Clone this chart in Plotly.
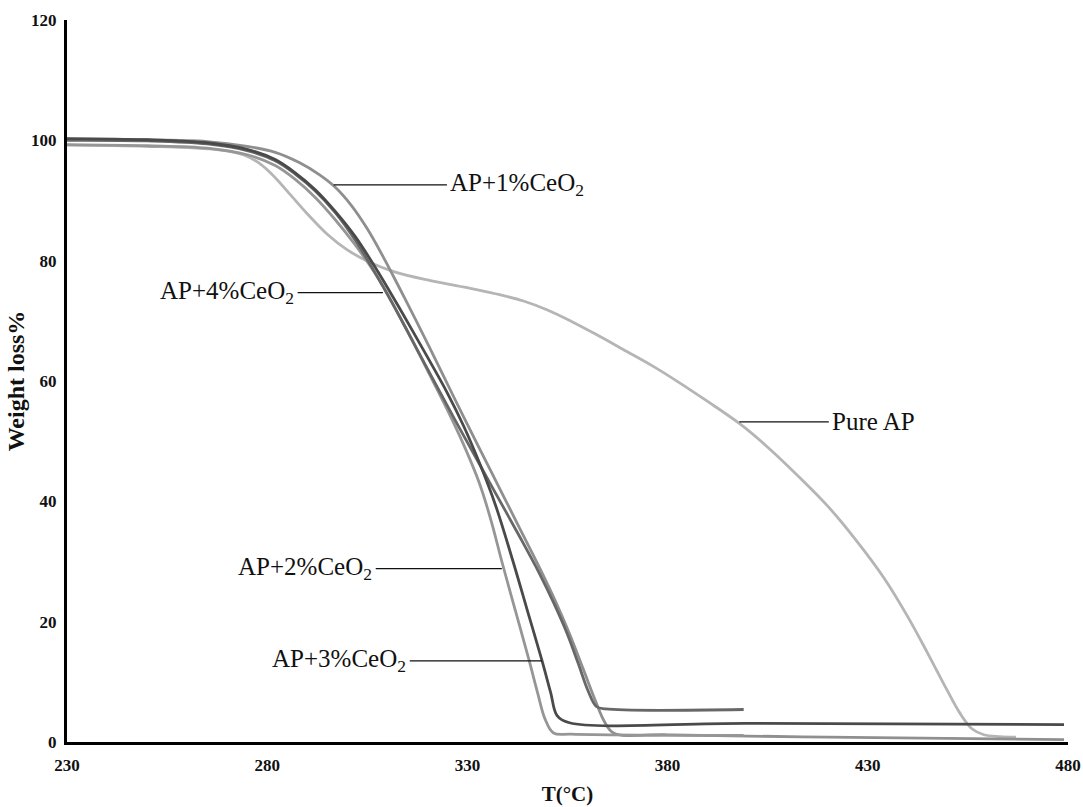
import plotly.graph_objects as go

# ---------------- data ----------------
pure_T = [230, 250, 268, 274, 278, 282, 286, 290, 295, 300, 306, 312, 320, 330, 337, 344, 350,
          356, 362, 369, 376, 383, 390, 398, 405, 412, 420, 427, 434, 440, 445, 449.5, 453, 456, 459, 463, 467]
pure_W = [99.2, 99.0, 98.4, 97.6, 96.2, 93.8, 90.8, 87.8, 84.4, 81.8, 79.6, 78.1, 76.8, 75.5, 74.5, 73.3, 71.8,
          69.9, 67.8, 65.2, 62.6, 59.7, 56.6, 52.9, 49.0, 44.6, 39.2, 33.6, 27.3, 20.8, 14.7, 9.0, 4.8, 2.2, 1.2, 0.9, 0.8]

ce1_T = [230, 250, 265, 275, 282, 288, 293, 297, 301, 305, 309, 313, 317, 322, 327, 333, 338, 343,
         348, 352, 355.5, 359, 362, 364.2, 366.5, 380, 420, 479]
ce1_W = [100.2, 100.1, 99.8, 99.0, 98.0, 96.3, 94.3, 92.2, 89.2, 85.3, 80.6, 75.5, 70.3, 63.6, 56.8, 48.8, 42.2, 35.6,
         29.0, 23.4, 18.0, 12.0, 6.8, 3.4, 1.5, 1.2, 0.8, 0.4]

ce2_T = [230, 250, 265, 275, 282, 287, 292, 297, 302, 308, 314, 320, 325, 329, 333, 336, 338.6, 342,
         345.4, 347.6, 349.4, 351.5, 356, 399]
ce2_W = [99.3, 99.1, 98.7, 97.6, 95.8, 93.5, 90.5, 86.8, 82.6, 76.8, 69.6, 61.8, 55.2, 49.5, 43.0, 36.6, 30.0, 21.8,
         13.6, 8.0, 3.8, 1.5, 1.3, 1.1]

ce3_T = [230, 250, 265, 275, 282, 287, 292, 297, 302, 308, 314, 320, 325, 329, 333, 337, 341.4,
         345, 348.6, 350.8, 352.4, 355.5, 400, 479]
ce3_W = [100.3, 100.1, 99.6, 98.5, 96.8, 94.6, 91.8, 88.2, 84.0, 77.8, 71.0, 64.0, 58.0, 52.6, 46.4, 39.4, 30.0,
         21.8, 13.6, 8.2, 4.4, 3.2, 3.1, 2.9]

ce4_T = [230, 250, 265, 275, 282, 287, 292, 297, 302, 309, 315, 321, 327, 333, 338, 343, 348,
         351.5, 354.8, 357.6, 360.2, 362.2, 364.5, 399]
ce4_W = [100.0, 99.9, 99.4, 98.3, 96.6, 94.4, 91.6, 88.0, 83.4, 75.6, 68.3, 60.8, 53.4, 46.2, 40.2, 34.2, 28.0,
         23.2, 18.2, 13.2, 8.4, 5.9, 5.5, 5.4]

# label texts, pointer target on curve (T, W) and text centre (T, W)
label_text = ["AP+1%CeO<sub>2</sub>", "AP+4%CeO<sub>2</sub>", "AP+2%CeO<sub>2</sub>",
              "AP+3%CeO<sub>2</sub>", "Pure AP"]
label_pt_T = [296.6, 308.9, 338.6, 348.6, 397.9]
label_pt_W = [92.6, 74.7, 28.8, 13.5, 53.2]
label_tx_T = [342.5, 270.0, 289.5, 298.0, 431.5]
label_tx_W = [92.6, 74.7, 28.8, 13.5, 53.2]

x_ticks = [230, 280, 330, 380, 430, 480]
y_ticks = [0, 20, 40, 60, 80, 100, 120]

# ---------------- figure ----------------
series = [
    ("Pure AP", pure_T, pure_W, "#b5b5b5"),
    ("AP+1%CeO2", ce1_T, ce1_W, "#8f8f8f"),
    ("AP+2%CeO2", ce2_T, ce2_W, "#969696"),
    ("AP+4%CeO2", ce4_T, ce4_W, "#676767"),
    ("AP+3%CeO2", ce3_T, ce3_W, "#4a4a4a"),
]

fig = go.Figure()
for name, xs, ys, col in series:
    fig.add_trace(go.Scatter(x=xs, y=ys, mode="lines", name=name,
                             line=dict(color=col, width=2.8, shape="spline", smoothing=1.0),
                             showlegend=False))

serif = "Liberation Serif, Times New Roman, serif"
for txt, pT, pW, tT, tW in zip(label_text, label_pt_T, label_pt_W, label_tx_T, label_tx_W):
    fig.add_annotation(x=pT, y=pW, ax=tT, ay=tW, axref="x", ayref="y", xref="x", yref="y",
                       text=txt, showarrow=True, arrowhead=0, arrowwidth=1.3, arrowcolor="#111",
                       standoff=0, borderpad=3,
                       font=dict(family=serif, size=25, color="#111"))

fig.update_layout(
    width=1083, height=807,
    margin=dict(l=67, r=15, t=20, b=65),
    paper_bgcolor="white", plot_bgcolor="white",
    font=dict(family=serif, color="#111"),
)
fig.update_xaxes(range=[230, 480], tickvals=x_ticks, ticks="", showgrid=False, zeroline=False,
                 showline=True, linecolor="black", linewidth=3, automargin=False, ticklabelstandoff=6,
                 ticklabeloverflow="allow",
                 tickfont=dict(family=serif, size=17, weight="bold", color="#111"),
                 title=dict(text="T(°C)", font=dict(family=serif, size=21, weight="bold"), standoff=12))
fig.update_yaxes(range=[0, 120], tickvals=y_ticks, ticks="", showgrid=False, zeroline=False,
                 showline=True, linecolor="black", linewidth=3, ticklabelstandoff=4, automargin=False,
                 tickfont=dict(family=serif, size=17, weight="bold", color="#111"),
                 title=dict(text="Weight loss%", font=dict(family=serif, size=24, weight="bold"), standoff=0))

fig.write_html("out.html", config={"displayModeBar": False})

# remove the browser's default page margin so the figure sits at (0, 0)
with open("out.html", "r", encoding="utf-8") as fh:
    html = fh.read()
html = html.replace("<head>", "<head><style>html,body{margin:0;padding:0;overflow:hidden;}</style>", 1)
with open("out.html", "w", encoding="utf-8") as fh:
    fh.write(html)
